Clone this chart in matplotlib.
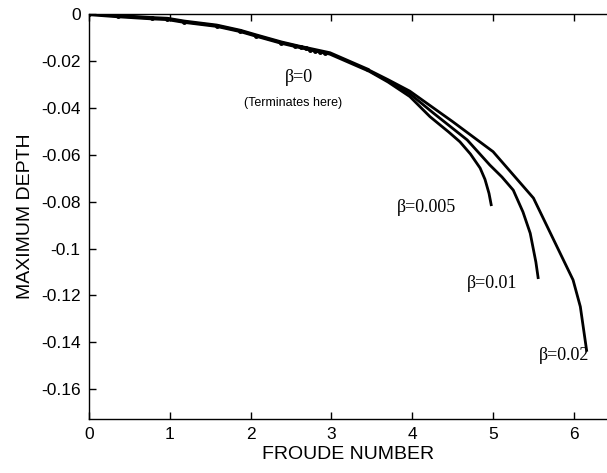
import matplotlib
matplotlib.use("Agg")
import matplotlib.pyplot as plt

plt.rcParams['axes.unicode_minus'] = False

# common part (all beta curves overlap here)
x_common = [0, 0.36, 0.78, 0.97, 1.18, 1.58, 1.87, 2.07, 2.38, 2.59, 2.98, 3.44]
y_common = [0, -0.0009, -0.0018, -0.0021, -0.0033, -0.0050, -0.0072, -0.0092, -0.0122, -0.0139, -0.0168, -0.0237]

# beta = 0 (terminates near Fr ~ 2.95), marker points
x_b0 = [0, 0.36, 0.78, 0.97, 1.18, 1.58, 1.87, 2.07, 2.38, 2.55, 2.62, 2.68, 2.74, 2.80, 2.86, 2.92]
y_b0 = [0, -0.0009, -0.0018, -0.0021, -0.0033, -0.0050, -0.0072, -0.0092, -0.0122, -0.0135, -0.0141, -0.0146, -0.0152, -0.0157, -0.0162, -0.0167]

x_b005 = [3.44, 3.70, 3.97, 4.22, 4.45, 4.59, 4.72, 4.84, 4.90, 4.95, 4.98]
y_b005 = [-0.0239, -0.0290, -0.0352, -0.0438, -0.0503, -0.0545, -0.0597, -0.0657, -0.0705, -0.0765, -0.0819]

x_b01 = [3.44, 3.70, 3.97, 4.26, 4.68, 4.96, 5.11, 5.25, 5.37, 5.46, 5.53, 5.56]
y_b01 = [-0.0237, -0.0285, -0.0340, -0.0422, -0.0537, -0.0644, -0.0695, -0.0751, -0.0844, -0.0935, -0.1058, -0.1130]

x_b02 = [3.44, 3.70, 3.97, 4.50, 5.00, 5.50, 5.99, 6.08, 6.16]
y_b02 = [-0.0235, -0.0280, -0.0329, -0.0459, -0.0587, -0.0785, -0.1134, -0.1248, -0.1440]

yticks = [0, -0.02, -0.04, -0.06, -0.08, -0.1, -0.12, -0.14, -0.16]
ytick_labels = ['0', '-0.02', '-0.04', '-0.06', '-0.08', '-0.1', '-0.12', '-0.14', '-0.16']
xticks = [0, 1, 2, 3, 4, 5, 6]

fig = plt.figure(figsize=(6.07, 4.73), dpi=100)
ax = fig.add_axes([0.1466, 0.1142, 0.8534, 0.8562])

lw = 2.0
ax.plot(x_common, y_common, color='black', lw=lw + 1.0, solid_joinstyle='round')
ax.plot(x_b0, y_b0, color='black', lw=lw, marker='o', ms=2.5)
for xs, ys in [(x_b005, y_b005), (x_b01, y_b01), (x_b02, y_b02)]:
    ax.plot(xs, ys, color='black', lw=lw, solid_capstyle='butt')

serif = 'Liberation Serif'
ax.text(2.60, -0.0269, 'β=0', family=serif, fontsize=13, ha='center', va='center')
ax.text(2.53, -0.0380, '(Terminates here)', family='Liberation Sans', fontsize=9, ha='center', va='center')
ax.text(4.18, -0.0827, 'β=0.005', family=serif, fontsize=13, ha='center', va='center')
ax.text(4.99, -0.1151, 'β=0.01', family=serif, fontsize=13, ha='center', va='center')
ax.text(5.88, -0.1458, 'β=0.02', family=serif, fontsize=13, ha='center', va='center')

ax.set_xlim(0, 6.41)
ax.set_ylim(-0.1727, 0)
ax.set_xticks(xticks)
ax.set_yticks(yticks)
ax.set_yticklabels(ytick_labels)
ax.tick_params(direction='in', length=5, width=1, top=True, right=False,
               labelsize=12.5, pad=6)
for lab in ax.get_xticklabels() + ax.get_yticklabels():
    lab.set_family('Liberation Sans')
ax.spines['right'].set_visible(False)
for s in ['left', 'bottom', 'top']:
    ax.spines[s].set_linewidth(1.0)

ax.set_xlabel('FROUDE NUMBER', family='Liberation Sans', fontsize=14, labelpad=3)
ax.set_ylabel('MAXIMUM DEPTH', family='Liberation Sans', fontsize=14, labelpad=5)

fig.savefig('out.png', dpi=100)
